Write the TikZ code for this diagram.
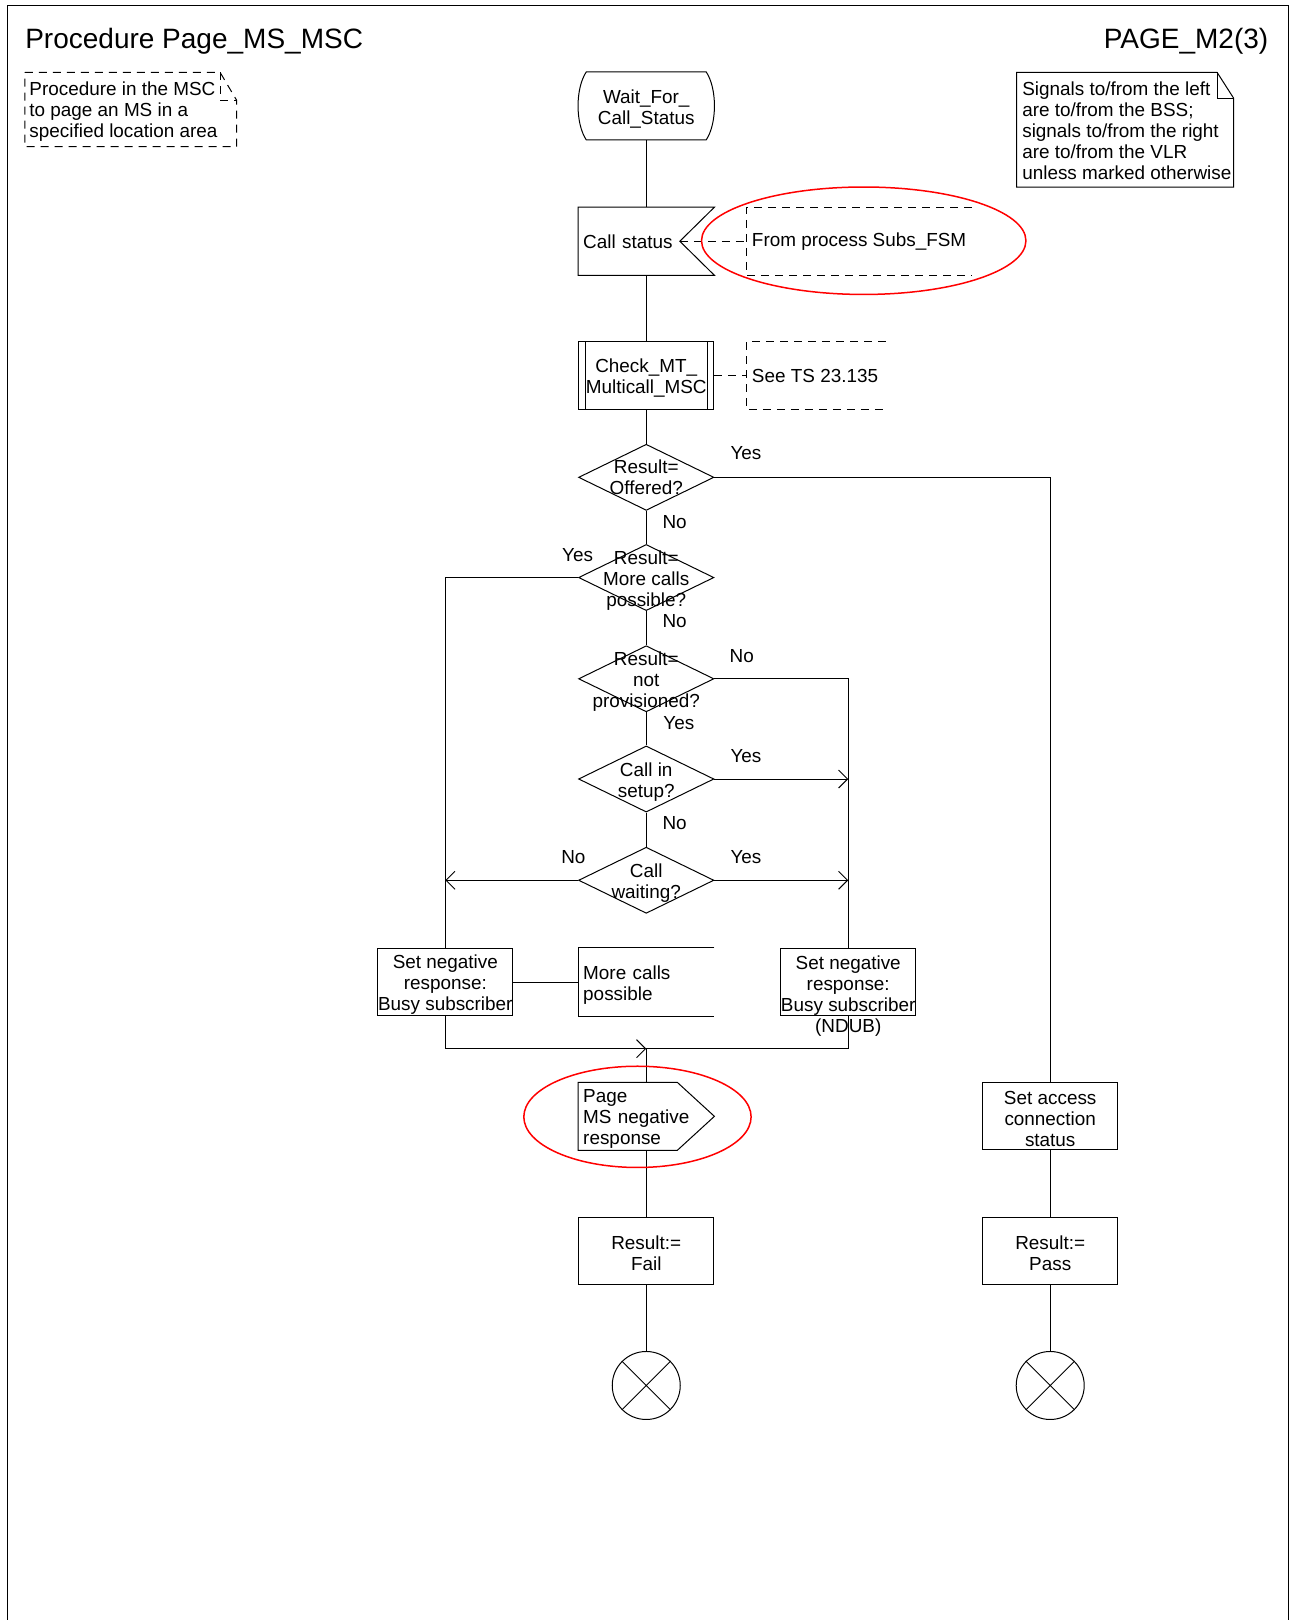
\documentclass[tikz,border=0pt]{standalone}
\usepackage{fontspec}
\setmainfont{Liberation Sans}
\usetikzlibrary{shapes.geometric,arrows.meta}

\newcommand{\fstrut}{\rule{0pt}{9.5pt}}

\tikzset{every picture/.style={line width=0.5pt}}
\tikzset{
  lbl/.style={font=\fontsize{9.45}{10.5}\selectfont, inner sep=0pt, align=center},
  shapebox/.style={rectangle, minimum width=67.66pt, minimum height=33.57pt, inner sep=0pt, lbl},
  taskbox/.style={shapebox, draw},
  leftbox/.style={shapebox, text width=63pt, inner xsep=2.33pt, align=left},
  decision/.style={draw, diamond, minimum width=67.66pt, minimum height=33.06pt, inner sep=0pt},
  endstop/.style={draw, circle, minimum size=34pt, inner sep=0pt},
  flow/.style={-{Straight Barb[length=4.5pt,width=9pt]}},
  cmt/.style={dash pattern=on 4pt off 3pt},
  redring/.style={draw=red, line width=0.75pt},
}

\begin{document}
\begin{tikzpicture}[x=0.5165pt,y=0.5165pt,yscale=-1,xscale=1]
\useasboundingbox (0,0) rectangle (1248,1568);

%Frame
\draw [line width=0.6pt] (7,1568) -- (7,5) -- (1247,5) -- (1247,1568) ;

% Text Node
\node [anchor=base west, inner sep=0pt, font=\fontsize{14}{16}\selectfont] (title) at (24,47) {Procedure Page\_MS\_MSC};
% Text Node
\node [anchor=base east, inner sep=0pt, font=\fontsize{14}{16}\selectfont] (pagenum) at (1228,47) {PAGE\_M2(3)};

%Shape: Note [dashed]
\draw [cmt] (24,70) -- (213,70) -- (229,97) -- (229,142) -- (24,142) -- cycle ;
\draw [cmt] (213,70) -- (213,97) -- (229,97) ;
\node [lbl, anchor=west, align=left] (intro) at (28,108.5) {Procedure in the MSC\\to page an MS in a\\specified location area};

%Shape: Note
\draw (984,70) -- (1178,70) -- (1194,95) -- (1194,181) -- (984,181) -- cycle ;
\draw (1178,70) -- (1178,95) -- (1194,95) ;
\node [lbl, anchor=west, align=left] (signals) at (989,126.5) {Signals to/from the left\\are to/from the BSS;\\signals to/from the right\\are to/from the VLR\\unless marked otherwise};

%Shape: State
\node [shapebox] (wait) at (625.5,102.5) {\fstrut Wait\_For\_\\Call\_Status};
\draw ([xshift=4.13pt]wait.north west) -- ([xshift=-4.13pt]wait.north east) .. controls +(10.7,16) and +(10.7,-16) .. ([xshift=-4.13pt]wait.south east) -- ([xshift=4.13pt]wait.south west) .. controls +(-10.7,-16) and +(-10.7,16) .. ([xshift=4.13pt]wait.north west) -- cycle ;

%Shape: Input
\node [leftbox] (callst) at (625.5,233.5) {Call status};
\coordinate (callnotch) at (658,233.5);
\draw (callst.north west) -- (callst.north east) -- (callnotch) -- (callst.south east) -- (callst.south west) -- cycle ;
% Text Node
\node [rectangle, minimum width=112.1pt, minimum height=33.57pt, inner sep=0pt] (subsnote) at (831.5,233.5) {};
\node [lbl, anchor=west] (subsnotetxt) at ([xshift=2.5pt]subsnote.west) {From process Subs\_FSM};
\draw [cmt] (subsnote.north east) -- (subsnote.north west) -- (subsnote.south west) -- (subsnote.south east) ;
\draw [cmt] (callnotch) -- (subsnote.west) ;

%Shape: Procedure call
\node [taskbox] (chkmt) at (625.5,363.5) {\fstrut Check\_MT\_\\Multicall\_MSC};
\draw ([xshift=3.6pt]chkmt.north west) -- ([xshift=3.6pt]chkmt.south west) ;
\draw ([xshift=-3.6pt]chkmt.north east) -- ([xshift=-3.6pt]chkmt.south east) ;
% Text Node
\node [rectangle, minimum width=69.2pt, minimum height=33.57pt, inner sep=0pt] (tsnote) at (790,363.5) {};
\node [lbl, anchor=west] (tsnotetxt) at ([xshift=2.5pt]tsnote.west) {See TS 23.135};
\draw [cmt] (tsnote.north east) -- (tsnote.north west) -- (tsnote.south west) -- (tsnote.south east) ;
\draw [cmt] (chkmt.east) -- (tsnote.west) ;

%Shape: Decisions
\node [decision] (offered) at (625.5,462) {};
\node [lbl] (offeredtxt) at (offered) {Result=\\Offered?};
\node [decision] (morecalls) at (625.5,559) {};
\node [lbl] (morecallstxt) at (morecalls) {\fstrut Result=\\More calls\\possible?};
\node [decision] (notprov) at (625.5,657) {};
\node [lbl] (notprovtxt) at (notprov) {\fstrut Result=\\not\\provisioned?};
\node [decision] (insetup) at (625.5,754) {};
\node [lbl] (insetuptxt) at (insetup) {\fstrut Call in\\setup?};
\node [decision] (waiting) at (625.5,852) {};
\node [lbl] (waitingtxt) at (waiting) {\fstrut Call\\waiting?};

% Text Node
\node [lbl] (yes1) at (722,439) {Yes};
\node [lbl] (no1) at (653,505) {No};
\node [lbl] (yes2) at (559,537) {Yes};
\node [lbl] (no2) at (653,601) {No};
\node [lbl] (no3) at (718,635) {No};
\node [lbl] (yes3) at (657,700) {Yes};
\node [lbl] (yes4) at (722,732) {Yes};
\node [lbl] (no4) at (653,797) {No};
\node [lbl] (no5) at (555,830) {No};
\node [lbl] (yes5) at (722,830) {Yes};

%Shape: Tasks
\node [taskbox] (busyleft) at (431,950.5) {\fstrut Set negative\\response:\\Busy subscriber};
\node [leftbox] (morenote) at (625.5,950.5) {\fstrut More calls\\possible};
\draw (morenote.north east) -- (morenote.north west) -- (morenote.south west) -- (morenote.south east) ;
\node [taskbox] (busyright) at (821,950.5) {};
\node [lbl, anchor=north, inner sep=3.5pt] (busyrighttxt) at (busyright.north) {Set negative\\response:\\Busy subscriber\\(NDUB)};
\node [taskbox] (access) at (1016.5,1080) {\fstrut Set access\\connection\\status};

%Shape: Output
\node [leftbox] (pagersp) at (625.5,1080.5) {\fstrut Page\\MS negative\\response};
\draw (pagersp.north west) -- ([xshift=-18.6pt]pagersp.north east) -- (pagersp.east) -- ([xshift=-18.6pt]pagersp.south east) -- (pagersp.south west) -- cycle ;

\node [taskbox] (fail) at (625.5,1210.5) {\fstrut Result:=\\Fail};
\node [taskbox] (pass) at (1016.5,1210.5) {\fstrut Result:=\\Pass};

%Shape: Stop
\node [endstop] (stopfail) at (625.5,1341) {};
\draw (stopfail.north west) -- (stopfail.south east) (stopfail.north east) -- (stopfail.south west) ;
\node [endstop] (stoppass) at (1016.5,1341) {};
\draw (stoppass.north west) -- (stoppass.south east) (stoppass.north east) -- (stoppass.south west) ;

%Straight Lines
\draw (wait) -- (callst) ;
\draw (callst) -- (chkmt) ;
\draw (chkmt) -- (offered) ;
\draw (offered) -- (morecalls) ;
\draw (morecalls) -- (notprov) ;
\draw (notprov) -- (insetup) ;
\draw (insetup) -- (waiting) ;
\draw (offered.east) -| (access.north) ;
\draw (morecalls.west) -| (busyleft.north) ;
\draw (notprov.east) -| (busyright.north) ;
\draw [flow] (insetup.east) -- (insetup.east -| busyright.north) ;
\draw [flow] (waiting.east) -- (waiting.east -| busyright.north) ;
\draw [flow] (waiting.west) -- (waiting.west -| busyleft.north) ;
\draw (busyleft.east) -- (morenote.west) ;
\coordinate (merge) at (625.5,1015);
\draw [flow] (busyleft.south) |- (merge) ;
\draw (busyright.south) |- (merge) ;
\draw (merge) -- (pagersp.north) ;
\draw (pagersp) -- (fail) ;
\draw (fail) -- (stopfail) ;
\draw (access) -- (pass) ;
\draw (pass) -- (stoppass) ;

%Shape: Ellipses
\draw [redring] (836,233) ellipse [x radius=157, y radius=52] ;
\draw [redring] (617,1081) ellipse [x radius=110, y radius=49] ;

\end{tikzpicture}
\end{document}
